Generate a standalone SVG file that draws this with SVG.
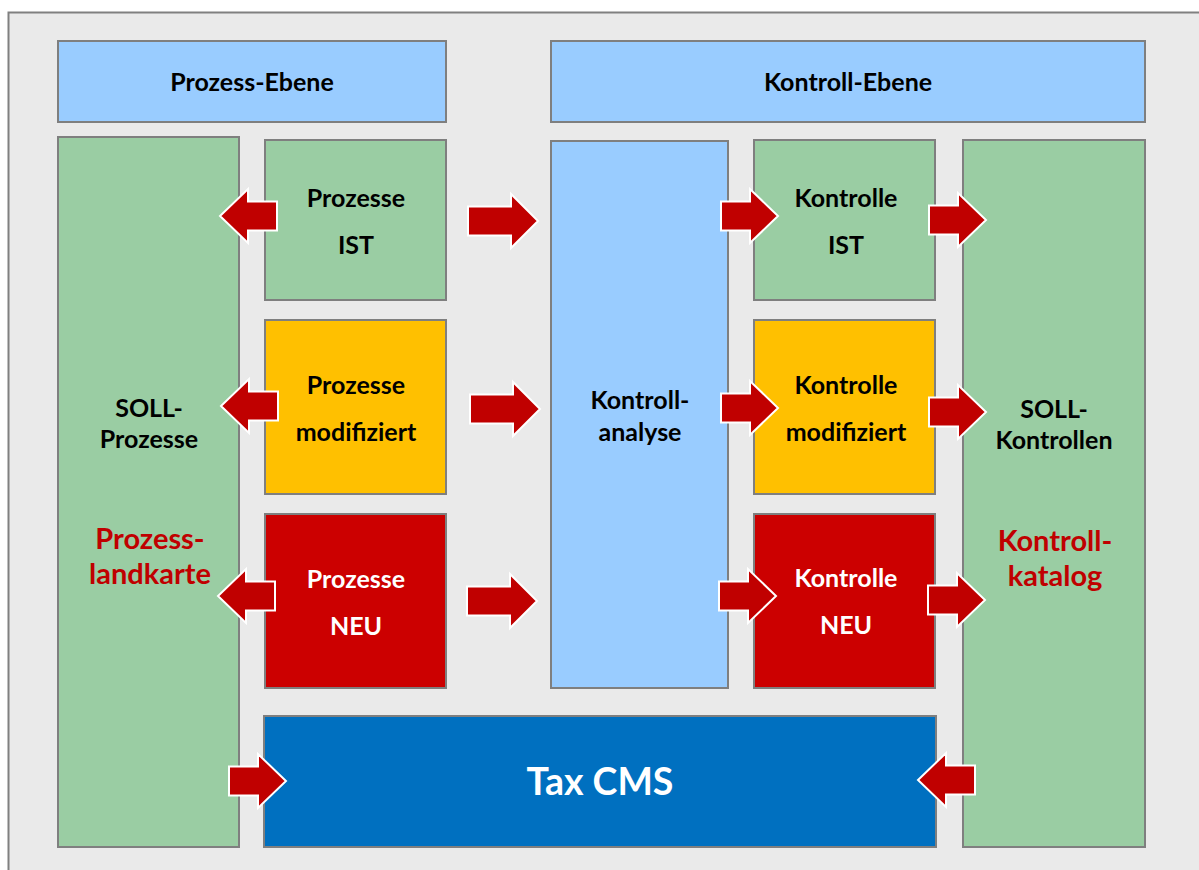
<svg xmlns="http://www.w3.org/2000/svg" width="1199" height="870" viewBox="0 0 1199 870">
<defs>
<style>
.box{stroke:#7f7f7f;stroke-width:2}
.green{fill:#9acda3}
.lblue{fill:#99ccff}
.yellow{fill:#ffc000}
.red{fill:#cc0000}
.blue{fill:#0070c0}
.t{font-family:Lato,"Open Sans","Liberation Sans",sans-serif;font-weight:bold;font-size:25px;fill:#000;text-anchor:middle}
.w{fill:#fff}
.r{fill:#c00000;font-size:29px}
.big{fill:#fff;font-size:37.5px}
.arr{fill:#c00000;stroke:#fff;stroke-width:2;stroke-linejoin:miter}
</style>
<path id="arrS" d="M0,-14.5 H29 V-27 L57,0 L29,27 V14.5 H0 Z"/>
<path id="arrL" d="M0,-14.5 H43 V-27 L70,0 L43,27 V14.5 H0 Z"/>
</defs>
<rect x="0" y="0" width="1199" height="870" fill="#fff"/>
<rect x="8.5" y="12.5" width="1220" height="900" fill="#eaeaea" stroke="#808080" stroke-width="2"/>

<g id="prozess-ebene">
<rect class="box lblue" x="58" y="41" width="388" height="81"/>
<text class="t" x="252" y="91">Prozess-Ebene</text>
</g>
<g id="kontroll-ebene">
<rect class="box lblue" x="551" y="41" width="594" height="81"/>
<text class="t" x="848" y="91">Kontroll-Ebene</text>
</g>
<g id="soll-prozesse">
<rect class="box green" x="58" y="137" width="181" height="710"/>
<text class="t" x="149" y="417">SOLL-</text>
<text class="t" x="149" y="448">Prozesse</text>
<text class="t r" x="150" y="549">Prozess-</text>
<text class="t r" x="150" y="584">landkarte</text>
</g>
<g id="prozesse-ist">
<rect class="box green" x="265" y="140" width="181" height="160"/>
<text class="t" x="356" y="207">Prozesse</text>
<text class="t" x="356" y="254">IST</text>
</g>
<g id="prozesse-modifiziert">
<rect class="box yellow" x="265" y="320" width="181" height="174"/>
<text class="t" x="356" y="394">Prozesse</text>
<text class="t" x="356" y="441">modifiziert</text>
</g>
<g id="prozesse-neu">
<rect class="box red" x="265" y="514" width="181" height="174"/>
<text class="t w" x="356" y="588">Prozesse</text>
<text class="t w" x="356" y="635">NEU</text>
</g>
<g id="kontrollanalyse">
<rect class="box lblue" x="551" y="141" width="177" height="547"/>
<text class="t" x="640" y="409">Kontroll-</text>
<text class="t" x="640" y="441">analyse</text>
</g>
<g id="kontrolle-ist">
<rect class="box green" x="754" y="140" width="181" height="160"/>
<text class="t" x="846" y="207">Kontrolle</text>
<text class="t" x="846" y="254">IST</text>
</g>
<g id="kontrolle-modifiziert">
<rect class="box yellow" x="754" y="320" width="181" height="174"/>
<text class="t" x="846" y="394">Kontrolle</text>
<text class="t" x="846" y="441">modifiziert</text>
</g>
<g id="kontrolle-neu">
<rect class="box red" x="754" y="514" width="181" height="174"/>
<text class="t w" x="846" y="587">Kontrolle</text>
<text class="t w" x="846" y="634">NEU</text>
</g>
<g id="soll-kontrollen">
<rect class="box green" x="963" y="140" width="182" height="707"/>
<text class="t" x="1054" y="418">SOLL-</text>
<text class="t" x="1054" y="449">Kontrollen</text>
<text class="t r" x="1055" y="551">Kontroll-</text>
<text class="t r" x="1055" y="586">katalog</text>
</g>
<g id="tax-cms">
<rect class="box blue" x="264" y="716" width="672" height="131"/>
<text class="t big" x="600" y="795">Tax CMS</text>
</g>

<g id="connectors">
<use href="#arrS" class="arr" transform="translate(277,216) scale(-1,1)"/>
<use href="#arrL" class="arr" transform="translate(468,221)"/>
<use href="#arrS" class="arr" transform="translate(721,216)"/>
<use href="#arrS" class="arr" transform="translate(929,220)"/>
<use href="#arrS" class="arr" transform="translate(278,406) scale(-1,1)"/>
<use href="#arrL" class="arr" transform="translate(470,409)"/>
<use href="#arrS" class="arr" transform="translate(721,408)"/>
<use href="#arrS" class="arr" transform="translate(929,412)"/>
<use href="#arrS" class="arr" transform="translate(275,596) scale(-1,1)"/>
<use href="#arrL" class="arr" transform="translate(467,601)"/>
<use href="#arrS" class="arr" transform="translate(719,596)"/>
<use href="#arrS" class="arr" transform="translate(928,600)"/>
<use href="#arrS" class="arr" transform="translate(229,781)"/>
<use href="#arrS" class="arr" transform="translate(975,780) scale(-1,1)"/>
</g>
</svg>
